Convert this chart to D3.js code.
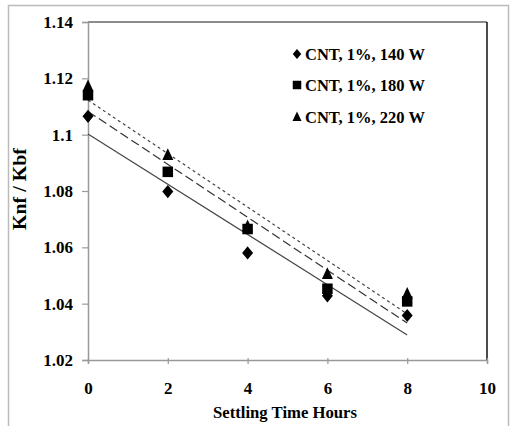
<!DOCTYPE html>
<html>
<head>
<meta charset="utf-8">
<script src="https://cdn.jsdelivr.net/npm/d3@7"></script>
<style>
  html, body { margin: 0; padding: 0; background: #fff; }
  svg { display: block; }
  text { font-family: "Liberation Serif", "Times New Roman", serif; font-weight: bold; fill: #000; }
</style>
</head>
<body>
<svg id="chart" width="514" height="426"></svg>
<script>
// Settling time (hours) and thermal conductivity ratio for each sonication power
const hours = [0, 2, 4, 6, 8];
const series140W = [1.1065, 1.0798, 1.058, 1.0428, 1.0358];
const series180W = [1.114, 1.0868, 1.0665, 1.0453, 1.0408];
const series220W = [1.1172, 1.0928, 1.0675, 1.0505, 1.0435];
const seriesNames = ["CNT, 1%, 140 W", "CNT, 1%, 180 W", "CNT, 1%, 220 W"];
const xTicks = [0, 2, 4, 6, 8, 10];
const yTicks = [1.02, 1.04, 1.06, 1.08, 1.1, 1.12, 1.14];

const svg = d3.select("#chart");
const m = { left: 88, right: 487, top: 22, bottom: 360 };

const x = d3.scaleLinear().domain([0, 10]).range([m.left, m.right]);
const y = d3.scaleLinear().domain([1.02, 1.14]).range([m.bottom, m.top]);

// outer frame
svg.append("path")
  .attr("d", "M8.5,426 V5.5 H508.5 V426")
  .attr("fill", "none").attr("stroke", "#bbb").attr("stroke-width", 1.5);

// plot area border: top and right
svg.append("line").attr("x1", m.left).attr("x2", m.right).attr("y1", m.top).attr("y2", m.top)
  .attr("stroke", "#666").attr("stroke-width", 1.5);
svg.append("line").attr("x1", m.right).attr("x2", m.right).attr("y1", m.top).attr("y2", m.bottom)
  .attr("stroke", "#111").attr("stroke-width", 1.5);

// axes
const yAxis = svg.append("g").attr("transform", `translate(${m.left},0)`)
  .call(d3.axisLeft(y).tickValues(yTicks).tickFormat(d3.format("")).tickSize(6).tickPadding(9));
const xAxis = svg.append("g").attr("transform", `translate(0,${m.bottom})`)
  .call(d3.axisBottom(x).tickValues(xTicks).tickSize(4).tickPadding(18));

[yAxis, xAxis].forEach(g => {
  g.select(".domain").attr("stroke", "#999").attr("stroke-width", 1.5);
  g.selectAll(".tick line").attr("stroke", "#999").attr("stroke-width", 1.2);
  g.selectAll(".tick text")
    .attr("font-family", "Liberation Serif, Times New Roman, serif")
    .attr("font-weight", "bold").attr("font-size", 17).attr("fill", "#000");
});
xAxis.selectAll(".tick line").attr("y1", -2);

// axis titles
svg.append("text").attr("x", 213).attr("y", 418)
  .attr("font-size", 17).attr("textLength", 144).attr("lengthAdjust", "spacingAndGlyphs")
  .text("Settling Time Hours");
svg.append("text")
  .attr("transform", `translate(26,${(m.top + m.bottom) / 2 - 2}) rotate(-90)`)
  .attr("text-anchor", "middle").attr("font-size", 18)
  .attr("textLength", 82).attr("lengthAdjust", "spacingAndGlyphs")
  .text("Knf / Kbf");

// least-squares trend line for a series
function fit(vals) {
  const mx = d3.mean(hours), my = d3.mean(vals);
  let sxy = 0, sxx = 0;
  hours.forEach((h, i) => { sxy += (h - mx) * (vals[i] - my); sxx += (h - mx) * (h - mx); });
  const b = sxy / sxx, a = my - b * mx;
  return h => a + b * h;
}

const seriesData = [series140W, series180W, series220W];
const lineStyles = [
  { dash: null, color: "#444", width: 1.2 },
  { dash: "9,4", color: "#333", width: 1.2 },
  { dash: "3,3", color: "#444", width: 1.2 }
];
const h0 = d3.min(hours), h1 = d3.max(hours);
seriesData.forEach((vals, i) => {
  const f = fit(vals);
  const st = lineStyles[i];
  svg.append("line")
    .attr("x1", x(h0)).attr("y1", y(f(h0)))
    .attr("x2", x(h1)).attr("y2", y(f(h1)))
    .attr("stroke", st.color).attr("stroke-width", st.width)
    .attr("stroke-dasharray", st.dash);
});

// marker shapes, s = nominal marker width
const shapes = [
  s => `M0,${-s * 0.6}L${s / 2},0L0,${s * 0.6}L${-s / 2},0Z`,
  s => `M${-s / 2},${-s / 2}H${s / 2}V${s / 2}H${-s / 2}Z`,
  s => `M0,${-s * 0.62}L${s / 2},${s * 0.45}H${-s / 2}Z`
];
const markerW = [11, 10.5, 11];
const drawOrder = [0, 2, 1];
drawOrder.forEach(i => {
  svg.append("g").selectAll("path").data(hours).join("path")
    .attr("d", shapes[i](markerW[i]))
    .attr("transform", (h, j) => `translate(${x(h)},${y(seriesData[i][j])})`)
    .attr("fill", "#000");
});

// legend
const legendY = [54, 85, 117];
const legendW = [8.5, 8.5, 9];
seriesNames.forEach((name, i) => {
  svg.append("path").attr("d", shapes[i](legendW[i]))
    .attr("transform", `translate(297,${legendY[i]})`).attr("fill", "#000");
  svg.append("text").attr("x", 305).attr("y", legendY[i] + 6)
    .attr("font-size", 16.5).text(name);
});
</script>
</body>
</html>
